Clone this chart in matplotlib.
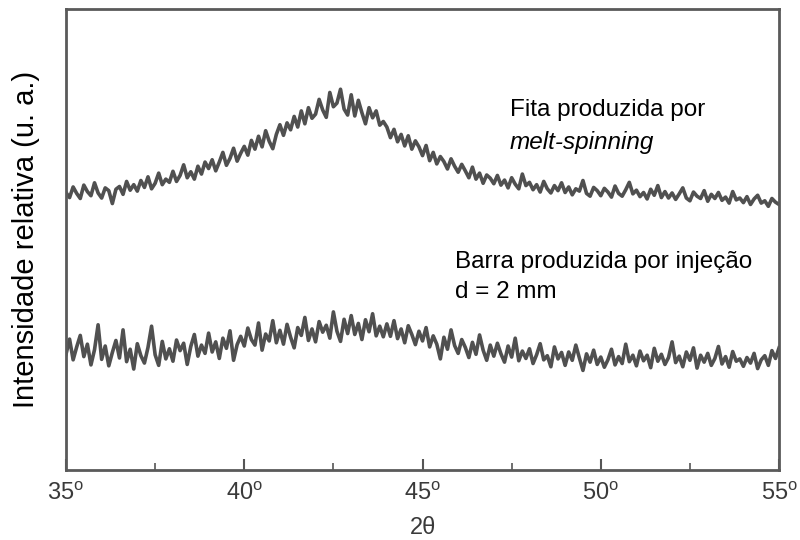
import numpy as np
import matplotlib
matplotlib.use('Agg')
import matplotlib.pyplot as plt
from matplotlib.ticker import MultipleLocator

# 2theta de 35 a 55 graus, passo 0.1
two_theta = np.round(np.arange(35.0, 55.05, 0.1), 1)

# fita (melt-spinning), valores (u. a.)
fita = [
    60.2, 59.1, 61.4, 60.0, 58.9, 61.8, 60.4, 59.5, 62.3, 60.1,
    59.0, 61.2, 60.6, 57.8, 60.9, 61.5, 59.8, 62.6, 60.7, 61.9,
    60.5, 62.8, 61.3, 63.6, 61.0, 62.2, 64.4, 61.9, 63.1, 62.4,
    64.8, 62.6, 63.9, 66.2, 63.4, 64.7, 63.1, 65.9, 64.2, 66.8,
    65.4, 67.3, 64.9, 66.8, 68.9, 66.1, 67.6, 69.8, 67.0, 68.7,
    70.2, 68.3, 71.5, 69.6, 72.4, 70.1, 73.6, 71.3, 69.7, 72.8,
    74.9, 72.6, 75.3, 73.8, 76.7, 74.4, 77.9, 75.1, 78.6, 76.3,
    77.2, 80.4, 78.1, 76.5, 81.9, 78.8, 79.6, 82.6, 78.3, 77.0,
    81.4, 76.8, 80.2, 77.5, 75.1, 78.6, 76.4, 77.9, 74.8, 75.6,
    74.4, 72.1, 73.9, 71.2, 72.8, 70.3, 72.5, 69.6, 71.4, 70.1,
    68.2, 70.4, 67.1, 68.9, 66.4, 68.0, 66.9, 65.3, 67.5, 65.9,
    64.6, 66.3, 64.9, 63.4, 65.7, 63.1, 64.4, 62.2, 64.0, 63.3,
    62.1, 63.9, 61.8, 62.9, 61.2, 63.4, 62.0, 61.0, 64.2, 61.7,
    62.4, 60.8, 61.9, 60.3, 62.6, 61.0, 60.1, 61.7, 60.6, 62.3,
    60.2, 61.4, 59.7, 61.0, 60.5, 62.8, 60.0, 59.4, 61.3, 60.6,
    59.5, 61.1, 60.3, 59.2, 61.6, 60.0, 59.4, 60.8, 62.4, 59.9,
    60.7, 59.3, 60.2, 58.8, 60.9, 59.6, 61.7, 59.1, 60.4, 59.0,
    60.1, 58.7, 59.9, 61.2, 59.0, 58.4, 60.3, 59.4, 58.9, 60.6,
    58.3, 59.8, 58.9, 60.2, 58.5, 59.2, 57.9, 60.4, 58.6, 59.0,
    58.0, 59.3, 57.6, 58.8, 59.6, 57.9, 58.4, 57.2, 58.9, 58.1,
    57.6,
]

# barra injetada d = 2 mm
barra = [
    25.1, 28.4, 23.9, 26.7, 29.2, 24.6, 27.3, 22.8, 26.1, 31.5,
    24.0, 26.9, 22.6, 25.5, 28.1, 24.3, 30.4, 23.5, 26.2, 21.9,
    27.4, 24.8, 23.2, 26.6, 31.2, 25.0, 22.7, 27.9, 24.1, 26.3,
    23.6, 28.2, 25.9, 27.5, 22.9, 26.8, 29.4, 24.7, 27.1, 25.3,
    29.7, 25.6, 27.8, 24.2, 28.6, 26.4, 30.2, 23.8, 27.2, 29.0,
    26.9, 30.8, 28.3, 27.1, 31.9, 26.0, 29.5, 28.0, 32.4, 27.6,
    30.3, 27.3, 31.6, 28.8, 26.5, 30.9, 29.2, 33.1, 28.1, 30.6,
    27.8, 32.2, 29.9, 31.4, 28.6, 34.3, 30.1, 27.9, 32.7, 29.6,
    33.5, 29.4, 31.8, 28.3, 32.6, 30.0, 33.9, 29.1, 31.2, 28.9,
    31.7, 29.0, 32.4, 28.5, 30.6, 27.6, 31.3, 29.4, 27.2, 30.1,
    28.0, 30.9, 26.7, 29.1, 27.3, 24.1, 28.8, 26.2, 30.4, 27.0,
    25.3, 28.3, 26.6, 24.4, 27.7, 25.1, 29.3, 26.0, 23.8, 27.1,
    24.7, 27.5, 25.2, 23.4, 26.9, 24.5, 28.6, 23.7, 25.8, 24.2,
    26.3, 23.1, 25.0, 27.4, 23.9, 24.8, 22.4, 26.7, 24.1, 25.5,
    22.7, 25.6, 23.8, 27.1, 24.3, 21.6, 25.2, 23.4, 26.0, 22.9,
    24.5, 22.3, 23.9, 26.2, 22.8, 24.6, 23.1, 27.3, 23.5, 24.9,
    22.6, 25.8, 23.7, 24.9, 22.2, 26.4, 23.6, 25.1, 22.9, 24.4,
    27.8, 23.3, 24.7, 22.4, 25.6, 23.8, 26.5, 22.1, 24.9, 23.4,
    25.3, 22.7, 24.2, 26.8, 23.0, 24.6, 22.3, 25.7, 23.6, 24.1,
    22.5, 24.4, 23.2, 25.3, 22.0, 23.9, 24.8, 22.7, 25.9, 24.2,
    26.5,
]

tick_pos = [35, 40, 45, 50, 55]
tick_lab = ['35$^{\\mathregular{o}}$', '40$^{\\mathregular{o}}$', '45$^{\\mathregular{o}}$',
            '50$^{\\mathregular{o}}$', '55$^{\\mathregular{o}}$']

plt.rcParams['font.family'] = ['Liberation Sans', 'DejaVu Sans']

fig = plt.figure(figsize=(8, 5.4), dpi=100)
ax = fig.add_axes([0.0825, 0.1296, 0.8913, 0.8537])

cor = '#505050'
ax.plot(two_theta, fita, color=cor, lw=2.6)
ax.plot(two_theta, barra, color=cor, lw=2.6)

ax.set_xlim(35, 55)
ax.set_ylim(0, 100)
ax.set_yticks([])
ax.set_xticks(tick_pos)
ax.set_xticklabels(tick_lab, fontsize=17, color='#3a3a3a')
ax.xaxis.set_minor_locator(MultipleLocator(2.5))
ax.tick_params(axis='x', which='major', direction='in', length=8, width=1.5, color='#555555', pad=9)
ax.tick_params(axis='x', which='minor', direction='in', length=5, width=1.2, color='#555555')

for s in ax.spines.values():
    s.set_color('#5a5a5a')
    s.set_linewidth(2)

ax.set_xlabel('2θ', fontsize=17, color='#3a3a3a', labelpad=8)
ax.set_ylabel('Intensidade relativa (u. a.)', fontsize=21, color='black', labelpad=19)

ax.text(47.45, 78.1, 'Fita produzida por', fontsize=17.5, ha='left', va='center')
ax.text(47.45, 71.1, 'melt-spinning', fontsize=17.5, style='italic', ha='left', va='center')
ax.text(45.9, 45.1, 'Barra produzida por injeção', fontsize=17.5, ha='left', va='center')
ax.text(45.9, 38.6, 'd = 2 mm', fontsize=17.5, ha='left', va='center')

fig.savefig('out.png', dpi=100)
